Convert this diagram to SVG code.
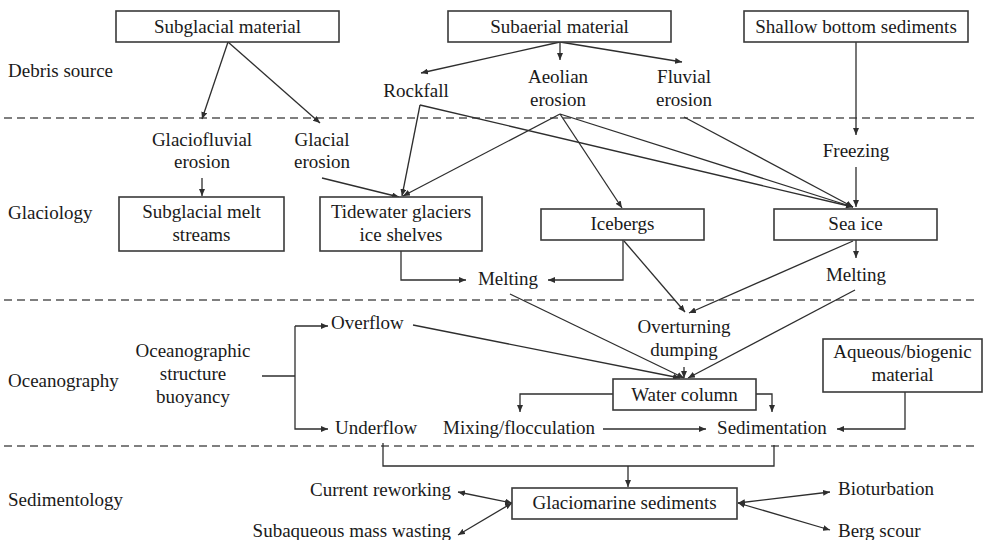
<svg xmlns="http://www.w3.org/2000/svg" width="984" height="540" viewBox="0 0 984 540">
<style>
text{font-family:"Liberation Serif","Times New Roman",serif;font-size:19px;fill:#1a1a1a}
.c{text-anchor:middle}
.e{text-anchor:end}
.box{fill:#fff;stroke:#3a3a3a;stroke-width:1.6}
.sep{stroke:#555;stroke-width:1.5;stroke-dasharray:8 5;fill:none}
.ln{stroke:#2e2e2e;stroke-width:1.3;fill:none}
.a{marker-end:url(#ah)}
.b{marker-start:url(#ah);marker-end:url(#ah)}
</style>
<defs>
<marker id="ah" markerUnits="userSpaceOnUse" markerWidth="8" markerHeight="6" refX="7" refY="3" orient="auto-start-reverse">
<path d="M0,0 L7,3 L0,6 z" fill="#2e2e2e"/>
</marker>
</defs>
<rect width="984" height="540" fill="#fff"/>
<g id="separators">
<line class="sep" x1="4" y1="118" x2="978" y2="118"/>
<line class="sep" x1="4" y1="300" x2="978" y2="300"/>
<line class="sep" x1="4" y1="446" x2="978" y2="446"/>
</g>
<g id="row-labels">
<text x="8" y="77">Debris source</text>
<text x="8" y="219">Glaciology</text>
<text x="8" y="387">Oceanography</text>
<text x="8" y="506">Sedimentology</text>
</g>
<g id="connectors">
<path class="ln a" d="M228,42 L202,119"/>
<path class="ln a" d="M228,42 L320,123"/>
<path class="ln a" d="M202,178 L202,196"/>
<path class="ln a" d="M560,42 L421,73"/>
<path class="ln a" d="M560,42 L560,60"/>
<path class="ln a" d="M560,42 L682,62"/>
<path class="ln a" d="M856,42 L856,135"/>
<path class="ln a" d="M856,167 L856,207"/>
<path class="ln a" d="M420,105 L402,196"/>
<path class="ln a" d="M420,105 L853,207"/>
<path class="ln a" d="M560,114 L403,196"/>
<path class="ln a" d="M560,114 L622,208"/>
<path class="ln a" d="M560,114 L853,207"/>
<path class="ln a" d="M684,117 L853,207"/>
<path class="ln a" d="M322,178 L399,197"/>
<path class="ln a" d="M401,251 L401,280 L466,280"/>
<path class="ln a" d="M623,240 L623,280 L548,280"/>
<path class="ln a" d="M624,241 L685,312"/>
<path class="ln a" d="M853,241 L689,313"/>
<path class="ln a" d="M856,240 L856,258"/>
<path class="ln a" d="M855,290 L688,378"/>
<path class="ln a" d="M510,294 L684,378"/>
<path class="ln a" d="M684,367 L684,378"/>
<path class="ln a" d="M413,325 L680,378"/>
<path class="ln" d="M262,376 L295,376"/>
<path class="ln a" d="M295,326 L295,429 L328,429"/>
<path class="ln a" d="M295,326 L328,326"/>
<path class="ln a" d="M613,394 L520,394 L520,412"/>
<path class="ln a" d="M756,394 L772,394 L772,412"/>
<path class="ln a" d="M603,429 L706,429"/>
<path class="ln a" d="M905,392 L905,429 L837,429"/>
<path class="ln" d="M383,443 L383,466 L774,466 L774,445"/>
<path class="ln a" d="M628,466 L628,487"/>
<path class="ln b" d="M458,492 L512,503"/>
<path class="ln b" d="M458,535 L512,503"/>
<path class="ln b" d="M738,503 L830,492"/>
<path class="ln b" d="M738,503 L830,530"/>
</g>
<g id="n-subglacial"><rect class="box" x="116" y="11" width="223" height="31"/><text class="c" x="227.5" y="33">Subglacial material</text></g>
<g id="n-subaerial"><rect class="box" x="448" y="11" width="223" height="31"/><text class="c" x="559.5" y="33">Subaerial material</text></g>
<g id="n-shallow"><rect class="box" x="744" y="11" width="224" height="31"/><text class="c" x="856" y="33">Shallow bottom sediments</text></g>
<g id="n-rockfall"><text class="c" x="416" y="97">Rockfall</text></g>
<g id="n-aeolian"><text class="c" x="558" y="83">Aeolian</text><text class="c" x="558" y="106">erosion</text></g>
<g id="n-fluvial"><text class="c" x="684" y="83">Fluvial</text><text class="c" x="684" y="106">erosion</text></g>
<g id="n-glaciofluvial"><text class="c" x="202" y="146">Glaciofluvial</text><text class="c" x="202" y="168">erosion</text></g>
<g id="n-glacial"><text class="c" x="322" y="146">Glacial</text><text class="c" x="322" y="168">erosion</text></g>
<g id="n-freezing"><text class="c" x="856" y="157">Freezing</text></g>
<g id="n-meltstreams"><rect class="box" x="119" y="197" width="165" height="54"/><text class="c" x="201.5" y="218">Subglacial melt</text><text class="c" x="201.5" y="241">streams</text></g>
<g id="n-tidewater"><rect class="box" x="320" y="197" width="162" height="54"/><text class="c" x="401" y="218">Tidewater glaciers</text><text class="c" x="401" y="241">ice shelves</text></g>
<g id="n-icebergs"><rect class="box" x="541" y="209" width="163" height="31"/><text class="c" x="622.5" y="230">Icebergs</text></g>
<g id="n-seaice"><rect class="box" x="774" y="209" width="163" height="31"/><text class="c" x="855.5" y="230">Sea ice</text></g>
<g id="n-melting1"><text class="c" x="508" y="285">Melting</text></g>
<g id="n-melting2"><text class="c" x="856" y="281">Melting</text></g>
<g id="n-overturning"><text class="c" x="684" y="333">Overturning</text><text class="c" x="684" y="356">dumping</text></g>
<g id="n-oceanographic"><text class="c" x="193" y="357">Oceanographic</text><text class="c" x="193" y="380">structure</text><text class="c" x="193" y="403">buoyancy</text></g>
<g id="n-overflow"><text x="331" y="329">Overflow</text></g>
<g id="n-underflow"><text x="335" y="434">Underflow</text></g>
<g id="n-watercolumn"><rect class="box" x="613" y="379" width="143" height="31"/><text class="c" x="684.5" y="401">Water column</text></g>
<g id="n-aqueous"><rect class="box" x="823" y="339" width="159" height="53"/><text class="c" x="902.5" y="358">Aqueous/biogenic</text><text class="c" x="902.5" y="381">material</text></g>
<g id="n-mixing"><text class="c" x="519" y="434">Mixing/flocculation</text></g>
<g id="n-sedimentation"><text class="c" x="772" y="434">Sedimentation</text></g>
<g id="n-glaciomarine"><rect class="box" x="512" y="488" width="225" height="31"/><text class="c" x="624.5" y="509">Glaciomarine sediments</text></g>
<g id="n-current"><text class="e" x="451" y="496">Current reworking</text></g>
<g id="n-subaqueous"><text class="e" x="451" y="537">Subaqueous mass wasting</text></g>
<g id="n-bioturbation"><text x="838" y="495">Bioturbation</text></g>
<g id="n-bergscour"><text x="838" y="537">Berg scour</text></g>
</svg>
